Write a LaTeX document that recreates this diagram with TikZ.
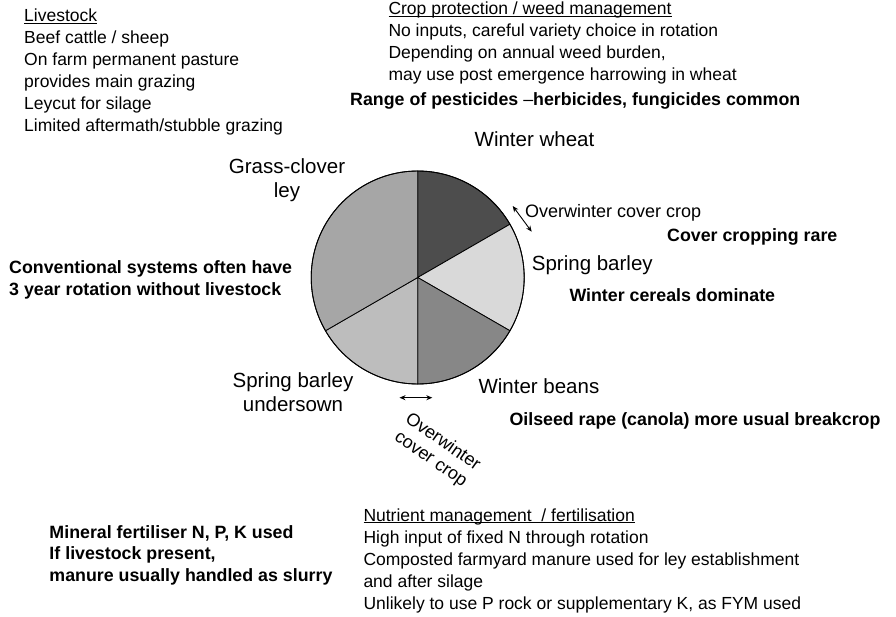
\documentclass[tikz,border=0pt]{standalone}
\usepackage{fontspec}
\setmainfont{Liberation Sans}
\usetikzlibrary{arrows.meta}
\newcommand{\ulhead}[1]{\underline{\smash{#1}}}
\begin{document}
\begin{tikzpicture}[x=1bp,y=-1bp,
  txt/.style={anchor=base west,inner sep=0pt,font=\fontsize{17.5bp}{22bp}\selectfont},
  btxt/.style={anchor=base west,inner sep=0pt,font=\fontsize{17.8bp}{21.7bp}\selectfont\bfseries},
  plabel/.style={anchor=base,inner sep=0pt,font=\fontsize{20.5bp}{24.5bp}\selectfont},
  small/.style={inner sep=0pt,font=\fontsize{18bp}{21bp}\selectfont},
  sector/.style={draw=black,line width=0.8bp,line join=round},
  dbl/.style={{Stealth[length=6bp,width=5bp]}-{Stealth[length=6bp,width=5bp]},line width=0.9bp}]
\definecolor{cwheat}{HTML}{4D4D4D}
\definecolor{csbarley}{HTML}{D9D9D9}
\definecolor{cbeans}{HTML}{878787}
\definecolor{cunder}{HTML}{BDBDBD}
\definecolor{cgrass}{HTML}{A6A6A6}
\useasboundingbox (0,0) rectangle (896,617);
\fill[white] (0,0) rectangle (896,617);

% pie
\node[circle,minimum size=213bp,inner sep=0pt] (pie) at (417.7,277.5) {};
\filldraw[sector,fill=cwheat]   (pie.center) -- ++(90:106.5bp)  arc[start angle=90,end angle=30,radius=106.5bp] -- cycle;
\filldraw[sector,fill=csbarley] (pie.center) -- ++(30:106.5bp)  arc[start angle=30,end angle=-30,radius=106.5bp] -- cycle;
\filldraw[sector,fill=cbeans]   (pie.center) -- ++(-30:106.5bp) arc[start angle=-30,end angle=-90,radius=106.5bp] -- cycle;
\filldraw[sector,fill=cunder]   (pie.center) -- ++(-90:106.5bp) arc[start angle=-90,end angle=-150,radius=106.5bp] -- cycle;
\filldraw[sector,fill=cgrass]   (pie.center) -- ++(-150:106.5bp) arc[start angle=-150,end angle=-270,radius=106.5bp] -- cycle;
\draw[line width=0.9bp] (pie.center) circle[radius=106.5bp];

% pie labels
\node[plabel] (wwheat) at (534.5,146.7) {Winter wheat};
\node[plabel] (grass) at (287,173.3) {\vtop{\hbox to 0pt{\hss Grass-clover\hss}\hbox to 0pt{\hss ley\hss}}};
\node[plabel,anchor=base west] (sbarley) at (531.7,270) {Spring barley};
\node[plabel,anchor=base west] (wbeans) at (478.3,393.3) {Winter beans};
\node[plabel] (under) at (293,387.3) {\vtop{\hbox to 0pt{\hss Spring barley\hss}\hbox to 0pt{\hss undersown\hss}}};

% cover crop arrows and labels
\coordinate (a1) at (512.7,206);
\coordinate (a2) at (531.7,231.7);
\draw[dbl] (a1) -- (a2);
\node[small,anchor=base west] (ow1) at (525,217.3) {Overwinter cover crop};
\coordinate (b1) at (399.5,397.7);
\coordinate (b2) at (432.3,397.7);
\draw[dbl] (b1) -- (b2);
\node[small,anchor=base,rotate=-35] (ow2) at (440,446) {Overwinter};
\node[small,anchor=base,rotate=-35] (ow3) at (428,463.2) {cover crop};

% text blocks
\node[txt] (live) at (24,21.7) {\vtop{\hbox{\ulhead{Livestock}}\hbox{Beef cattle / sheep}\hbox{On farm permanent pasture}\hbox{provides main grazing}\hbox{Leycut for silage}\hbox{Limited aftermath/stubble grazing}}};
\node[txt] (crop) at (388.3,15) {\vtop{\hbox{\ulhead{Crop protection / weed management}}\hbox{No inputs, careful variety choice in rotation}\hbox{Depending on annual weed burden,}\hbox{may use post emergence harrowing in wheat}}};
\node[btxt] (range) at (350,106) {Range of pesticides \textmd{--}herbicides, fungicides common};
\node[btxt] (conv) at (9,273.3) {\vtop{\hbox{Conventional systems often have}\hbox{3 year rotation without livestock}}};
\node[btxt] (ccr) at (667,241.7) {Cover cropping rare};
\node[btxt] (wcd) at (569.3,301.7) {Winter cereals dominate};
\node[btxt] (osr) at (509.3,425) {Oilseed rape (canola) more usual breakcrop};
\node[btxt] (min) at (49.3,538) {\vtop{\hbox{Mineral fertiliser N, P, K used}\hbox{If livestock present,}\hbox{manure usually handled as slurry}}};
\node[txt] (nut) at (363.3,521) {\vtop{\hbox{\ulhead{Nutrient management\ \ / fertilisation}}\hbox{High input of fixed N through rotation}\hbox{Composted farmyard manure used for ley establishment}\hbox{and after silage}\hbox{Unlikely to use P rock or supplementary K, as FYM used}}};
\end{tikzpicture}
\end{document}
